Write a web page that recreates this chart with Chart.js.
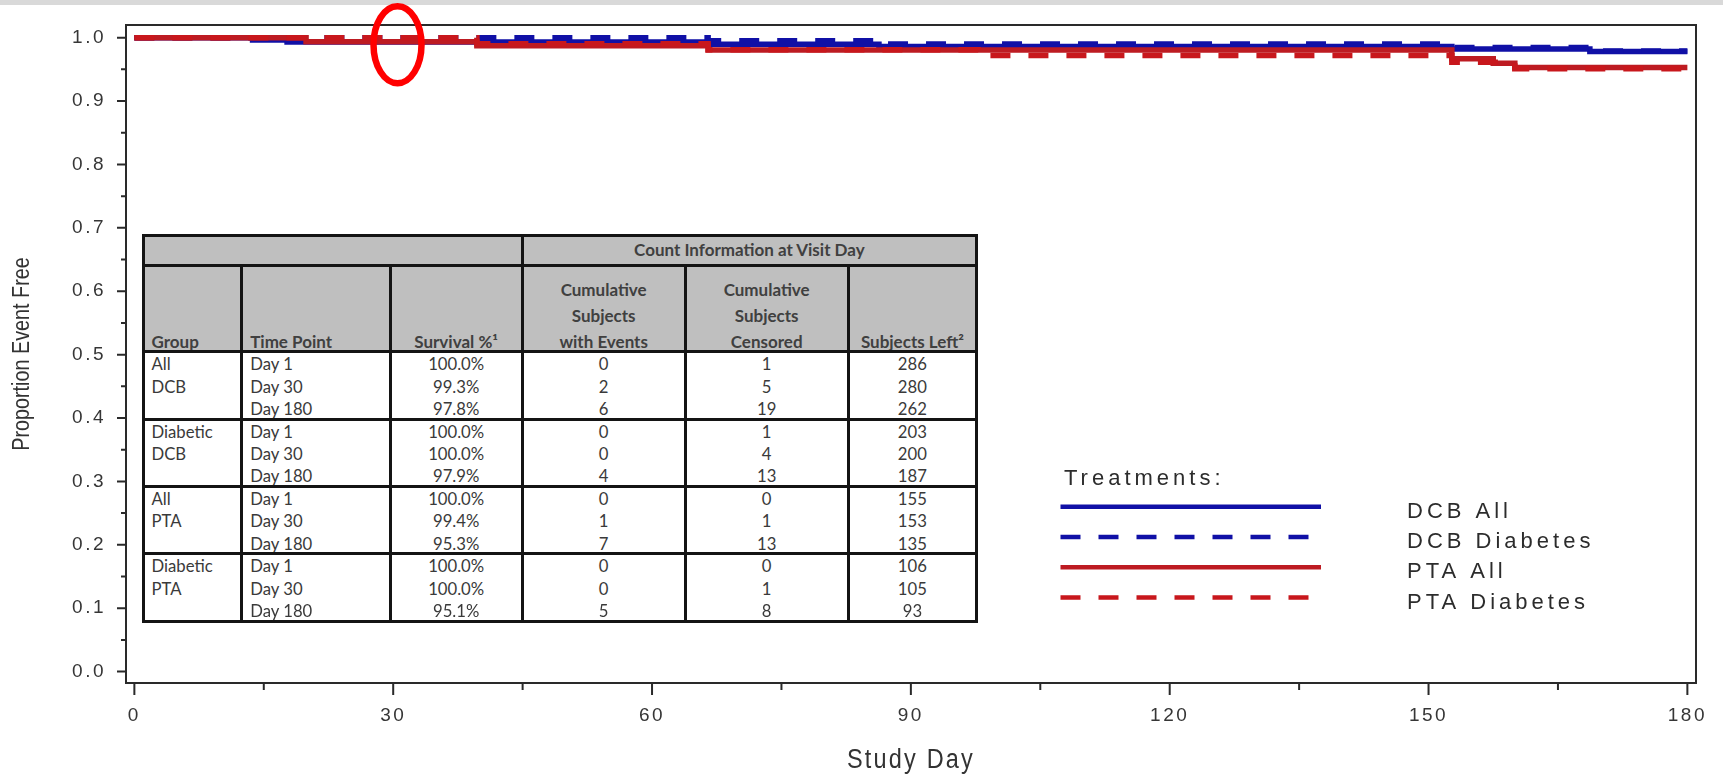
<!DOCTYPE html>
<html><head><meta charset="utf-8">
<script src="https://cdn.jsdelivr.net/npm/chart.js@4.4.1/dist/chart.umd.min.js"></script>
<style>
html,body{margin:0;padding:0;background:#fff;}
#wrap{position:relative;width:1723px;height:775px;overflow:hidden;background:#fff;}
#band{position:absolute;left:0;top:0;width:1723px;height:5px;background:#d9d9d9;}
canvas{position:absolute;left:0;top:0;}
#tbl{position:absolute;left:0;top:0;width:1723px;height:775px;pointer-events:none;font-family:Lato,'Open Sans',sans-serif;font-size:16.7px;color:#3a3a3a;}
.c{position:absolute;white-space:nowrap;}
.b{font-weight:700;color:#404040;font-size:17px;}
.ln{position:absolute;background:#141414;}
</style></head><body>
<div id="wrap"><div id="band"></div><canvas id="c" width="1723" height="775"></canvas><div id="tbl"></div></div>
<script>
// ---------------- data ----------------
const xMajorTicks = [0, 30, 60, 90, 120, 150, 180];
const xMinorTicks = [15, 45, 75, 105, 135, 165];
const yMajorTicks = [0.0, 0.1, 0.2, 0.3, 0.4, 0.5, 0.6, 0.7, 0.8, 0.9, 1.0];
const yMinorTicks = [0.05, 0.15, 0.25, 0.35, 0.45, 0.55, 0.65, 0.75, 0.85, 0.95];

const dcbAllDays  = [0, 13.7, 17.7, 66.5, 86.3, 152.7, 168.7, 180];
const dcbAllSurv  = [1.000, 0.9965, 0.9930, 0.9895, 0.9860, 0.9820, 0.9780, 0.9780];
const dcbDiabDays = [0, 66.5, 86.3, 152.7, 168.7, 180];
const dcbDiabSurv = [1.000, 0.9950, 0.9900, 0.9845, 0.9790, 0.9790];
const ptaAllDays  = [0, 19.9, 39.7, 66.5, 152.7, 157.5, 160.0, 180];
const ptaAllSurv  = [1.000, 0.9935, 0.9871, 0.9806, 0.9666, 0.9596, 0.9530, 0.9530];
const ptaDiabDays = [0, 39.7, 66.5, 97.8, 152.7, 160.0, 180];
const ptaDiabSurv = [1.000, 0.9906, 0.9811, 0.9717, 0.9614, 0.9510, 0.9510];

const legendTitle = 'Treatments:';
const legendOrder = ['DCB All', 'DCB Diabetes', 'PTA All', 'PTA Diabetes'];

const tableTopHeader = 'Count Information at Visit Day';
const tableHeaders = [['Group'], ['Time Point'], ['Survival %\u00B9'],
  ['Cumulative', 'Subjects', 'with Events'], ['Cumulative', 'Subjects', 'Censored'], ['Subjects Left\u00B2']];
const tableGroups = [['All', 'DCB'], ['Diabetic', 'DCB'], ['All', 'PTA'], ['Diabetic', 'PTA']];
const timePoints = ['Day 1', 'Day 30', 'Day 180'];
const survivalPct = [['100.0%', '99.3%', '97.8%'], ['100.0%', '100.0%', '97.9%'], ['100.0%', '99.4%', '95.3%'], ['100.0%', '100.0%', '95.1%']];
const cumEvents = [[0, 2, 6], [0, 0, 4], [0, 1, 7], [0, 0, 5]];
const cumCensored = [[1, 5, 19], [1, 4, 13], [0, 1, 13], [0, 1, 8]];
const subjectsLeft = [[286, 280, 262], [203, 200, 187], [155, 153, 135], [106, 105, 93]];

const circleDay = 30.5, circleValue = 0.989;

// ---------------- styles ----------------
const BLUE = '#1010a6', RED = '#c8171c', RED2 = '#bd1b22';
const DASH = [20, 18];
const LW = 5.5;

const zip = (xs, ys) => xs.map((x, i) => ({ x: x, y: ys[i] }));
const isMajor = (arr, v) => arr.some(m => Math.abs(m - v) < 1e-9);

const common = { stepped: true, pointRadius: 0, borderWidth: LW, fill: false, borderCapStyle: 'butt', borderJoinStyle: 'miter' };
const datasets = [
  Object.assign({ label: 'PTA Diabetes', data: zip(ptaDiabDays, ptaDiabSurv), borderColor: RED, borderDash: DASH, order: 1 }, common),
  Object.assign({ label: 'PTA All', data: zip(ptaAllDays, ptaAllSurv), borderColor: RED2, order: 2 }, common),
  Object.assign({ label: 'DCB Diabetes', data: zip(dcbDiabDays, dcbDiabSurv), borderColor: BLUE, borderDash: DASH, order: 3 }, common),
  Object.assign({ label: 'DCB All', data: zip(dcbAllDays, dcbAllSurv), borderColor: BLUE, order: 4 }, common)
];

function wrapTitles(chart) {
  const ys = chart.scales.y, xs = chart.scales.x;
  if (ys && !ys._wrappedTitle) {
    const orig = ys.drawTitle;
    ys.drawTitle = function () {
      const c = this.ctx; c.save();
      c.letterSpacing = '0px';
      const cy = (this.top + this.bottom) / 2;
      c.translate(0, cy); c.scale(1, 0.86); c.translate(0, -cy);
      orig.call(this); c.restore();
    };
    ys._wrappedTitle = true;
  }
  if (xs && !xs._wrappedTitle) {
    const orig = xs.drawTitle;
    xs.drawTitle = function () {
      const c = this.ctx; c.save();
      c.letterSpacing = '2.5px';
      const cx = (this.left + this.right) / 2;
      c.translate(cx, 0); c.scale(0.87, 1); c.translate(-cx, 0);
      orig.call(this); c.restore();
    };
    xs._wrappedTitle = true;
  }
}

const deco = {
  id: 'deco',
  beforeDraw(chart) {
    chart.ctx.letterSpacing = '2.5px';
    wrapTitles(chart);
  },
  afterDraw(chart) {
    const { ctx, chartArea: a } = chart;
    const x = chart.scales.x, y = chart.scales.y;
    ctx.save();
    ctx.letterSpacing = '0px';
    // frame
    ctx.strokeStyle = '#2a2a2a'; ctx.lineWidth = 2; ctx.setLineDash([]);
    ctx.strokeRect(a.left, a.top, a.right - a.left, a.bottom - a.top);
    // tick marks
    ctx.beginPath();
    y.ticks.forEach(t => {
      const py = y.getPixelForValue(t.value);
      ctx.moveTo(a.left - (isMajor(yMajorTicks, t.value) ? 9 : 5), py); ctx.lineTo(a.left, py);
    });
    x.ticks.forEach(t => {
      const px = x.getPixelForValue(t.value);
      ctx.moveTo(px, a.bottom); ctx.lineTo(px, a.bottom + (isMajor(xMajorTicks, t.value) ? 12 : 7));
    });
    ctx.stroke();
    // legend
    ctx.font = "22px 'Liberation Sans'";
    ctx.letterSpacing = '4px';
    ctx.fillStyle = '#2c2c2c'; ctx.textAlign = 'left'; ctx.textBaseline = 'middle';
    ctx.fillText(legendTitle, 1064, 479);
    legendOrder.forEach((lab, i) => {
      const ds = chart.data.datasets.find(d => d.label === lab);
      const ly = 506.7 + i * 30.3;
      ctx.strokeStyle = ds.borderColor; ctx.lineWidth = 4.5; ctx.lineCap = 'butt';
      ctx.setLineDash(ds.borderDash || []);
      ctx.beginPath(); ctx.moveTo(1060.5, ly); ctx.lineTo(1321, ly); ctx.stroke();
      ctx.setLineDash([]);
      ctx.fillText(lab, 1407, ly + 5);
    });
    // red circle annotation
    ctx.strokeStyle = '#ff0000'; ctx.lineWidth = 6.5;
    ctx.beginPath();
    ctx.ellipse(x.getPixelForValue(circleDay), y.getPixelForValue(circleValue), 24, 38.5, 0, 0, Math.PI * 2);
    ctx.stroke();
    ctx.restore();
  }
};

new Chart(document.getElementById('c'), {
  type: 'line',
  data: { datasets: datasets },
  options: {
    responsive: false, animation: false, devicePixelRatio: 1,
    layout: { padding: { left: 0, right: 27, top: 25, bottom: 0 } },
    plugins: { legend: { display: false }, tooltip: { enabled: false } },
    scales: {
      x: {
        type: 'linear', min: -0.97, max: 181,
        afterBuildTicks: s => { s.ticks = xMajorTicks.concat(xMinorTicks).sort((p, q) => p - q).map(v => ({ value: v })); },
        afterFit: s => { s.height = 92; s.paddingLeft = 0; s.paddingRight = 0; },
        grid: { display: false, drawTicks: false }, border: { display: false },
        ticks: { autoSkip: false, maxRotation: 0, minRotation: 0, padding: 21, color: '#363636',
          font: { family: "'Liberation Sans'", size: 19 },
          callback: v => isMajor(xMajorTicks, v) ? String(v) : '' },
        title: { display: true, text: 'Study Day', color: '#333', font: { family: "'Liberation Sans'", size: 27, lineHeight: 1.1 }, padding: { top: 0, bottom: 0 } }
      },
      y: {
        type: 'linear', min: -0.018, max: 1.02,
        afterBuildTicks: s => { s.ticks = yMajorTicks.concat(yMinorTicks).sort((p, q) => p - q).map(v => ({ value: v })); },
        afterFit: s => { s.width = 126; s.paddingTop = 0; s.paddingBottom = 0; },
        grid: { display: false, drawTicks: false }, border: { display: false },
        ticks: { autoSkip: false, padding: 20, color: '#363636',
          font: { family: "'Liberation Sans'", size: 19 },
          callback: v => isMajor(yMajorTicks, v) ? v.toFixed(1) : '' },
        title: { display: true, text: 'Proportion Event Free', color: '#333', font: { family: "'Liberation Sans'", size: 23, lineHeight: 1.2 }, padding: { top: 9, bottom: 0 } }
      }
    }
  },
  plugins: [deco]
});

// ---------------- table overlay ----------------
(function buildTable() {
  const root = document.getElementById('tbl');
  const colX = [143, 241.7, 390, 522.3, 685, 848.3, 976.5];
  const top = 235, h1 = 265.7, h2 = 351.7, bottom = 621;
  const rowH = (bottom - h2) / 12;
  const add = (cls, st, html) => { const d = document.createElement('div'); d.className = cls; Object.assign(d.style, st); if (html != null) d.innerHTML = html; root.appendChild(d); return d; };
  const px = v => v + 'px';
  add('c', { left: px(colX[0]), top: px(top), width: px(colX[6] - colX[0]), height: px(h2 - top), background: '#bfbfbf' });
  add('c', { left: px(colX[0]), top: px(h2), width: px(colX[6] - colX[0]), height: px(bottom - h2), background: '#ffffff' });
  add('c b', { left: px(colX[3]), top: px(top), width: px(colX[6] - colX[3]), height: px(h1 - top), lineHeight: px(h1 - top), textAlign: 'center' }, tableTopHeader);
  tableHeaders.forEach((lines, ci) => {
    const left = ci < 2;
    const lh = 26;
    const h = lines.length * lh;
    add('c b', { left: px(colX[ci] + (left ? 8.5 : 0)), top: px(h2 - 10 - h + lh / 2 + 0.5), width: px(colX[ci + 1] - colX[ci] - (left ? 8.5 : 0)), lineHeight: px(lh), textAlign: left ? 'left' : 'center' }, lines.join('<br>'));
  });
  tableGroups.forEach((g, gi) => {
    timePoints.forEach((tp, k) => {
      const r = gi * 3 + k;
      const ty = h2 + r * rowH + 1.5;
      const vals = [g[k] || '', tp, survivalPct[gi][k], String(cumEvents[gi][k]), String(cumCensored[gi][k]), String(subjectsLeft[gi][k])];
      vals.forEach((v, ci) => {
        const left = ci < 2;
        add('c', { left: px(colX[ci] + (left ? 8.5 : 0)), top: px(ty), width: px(colX[ci + 1] - colX[ci] - (left ? 8.5 : 0)), height: px(rowH), lineHeight: px(rowH), textAlign: left ? 'left' : 'center' }, v);
      });
    });
  });
  const t = 3;
  [top, h1, h2, h2 + 3 * rowH, h2 + 6 * rowH, h2 + 9 * rowH, bottom].forEach(yy => {
    add('ln', { left: px(colX[0] - t / 2), top: px(yy - t / 2), width: px(colX[6] - colX[0] + t), height: px(t) });
  });
  colX.forEach((xx, i) => {
    const full = (i === 0 || i === 3 || i === 6);
    const y0 = full ? top : h1;
    add('ln', { left: px(xx - t / 2), top: px(y0 - t / 2), width: px(t), height: px(bottom - y0 + t) });
  });
})();
</script>
</body></html>
